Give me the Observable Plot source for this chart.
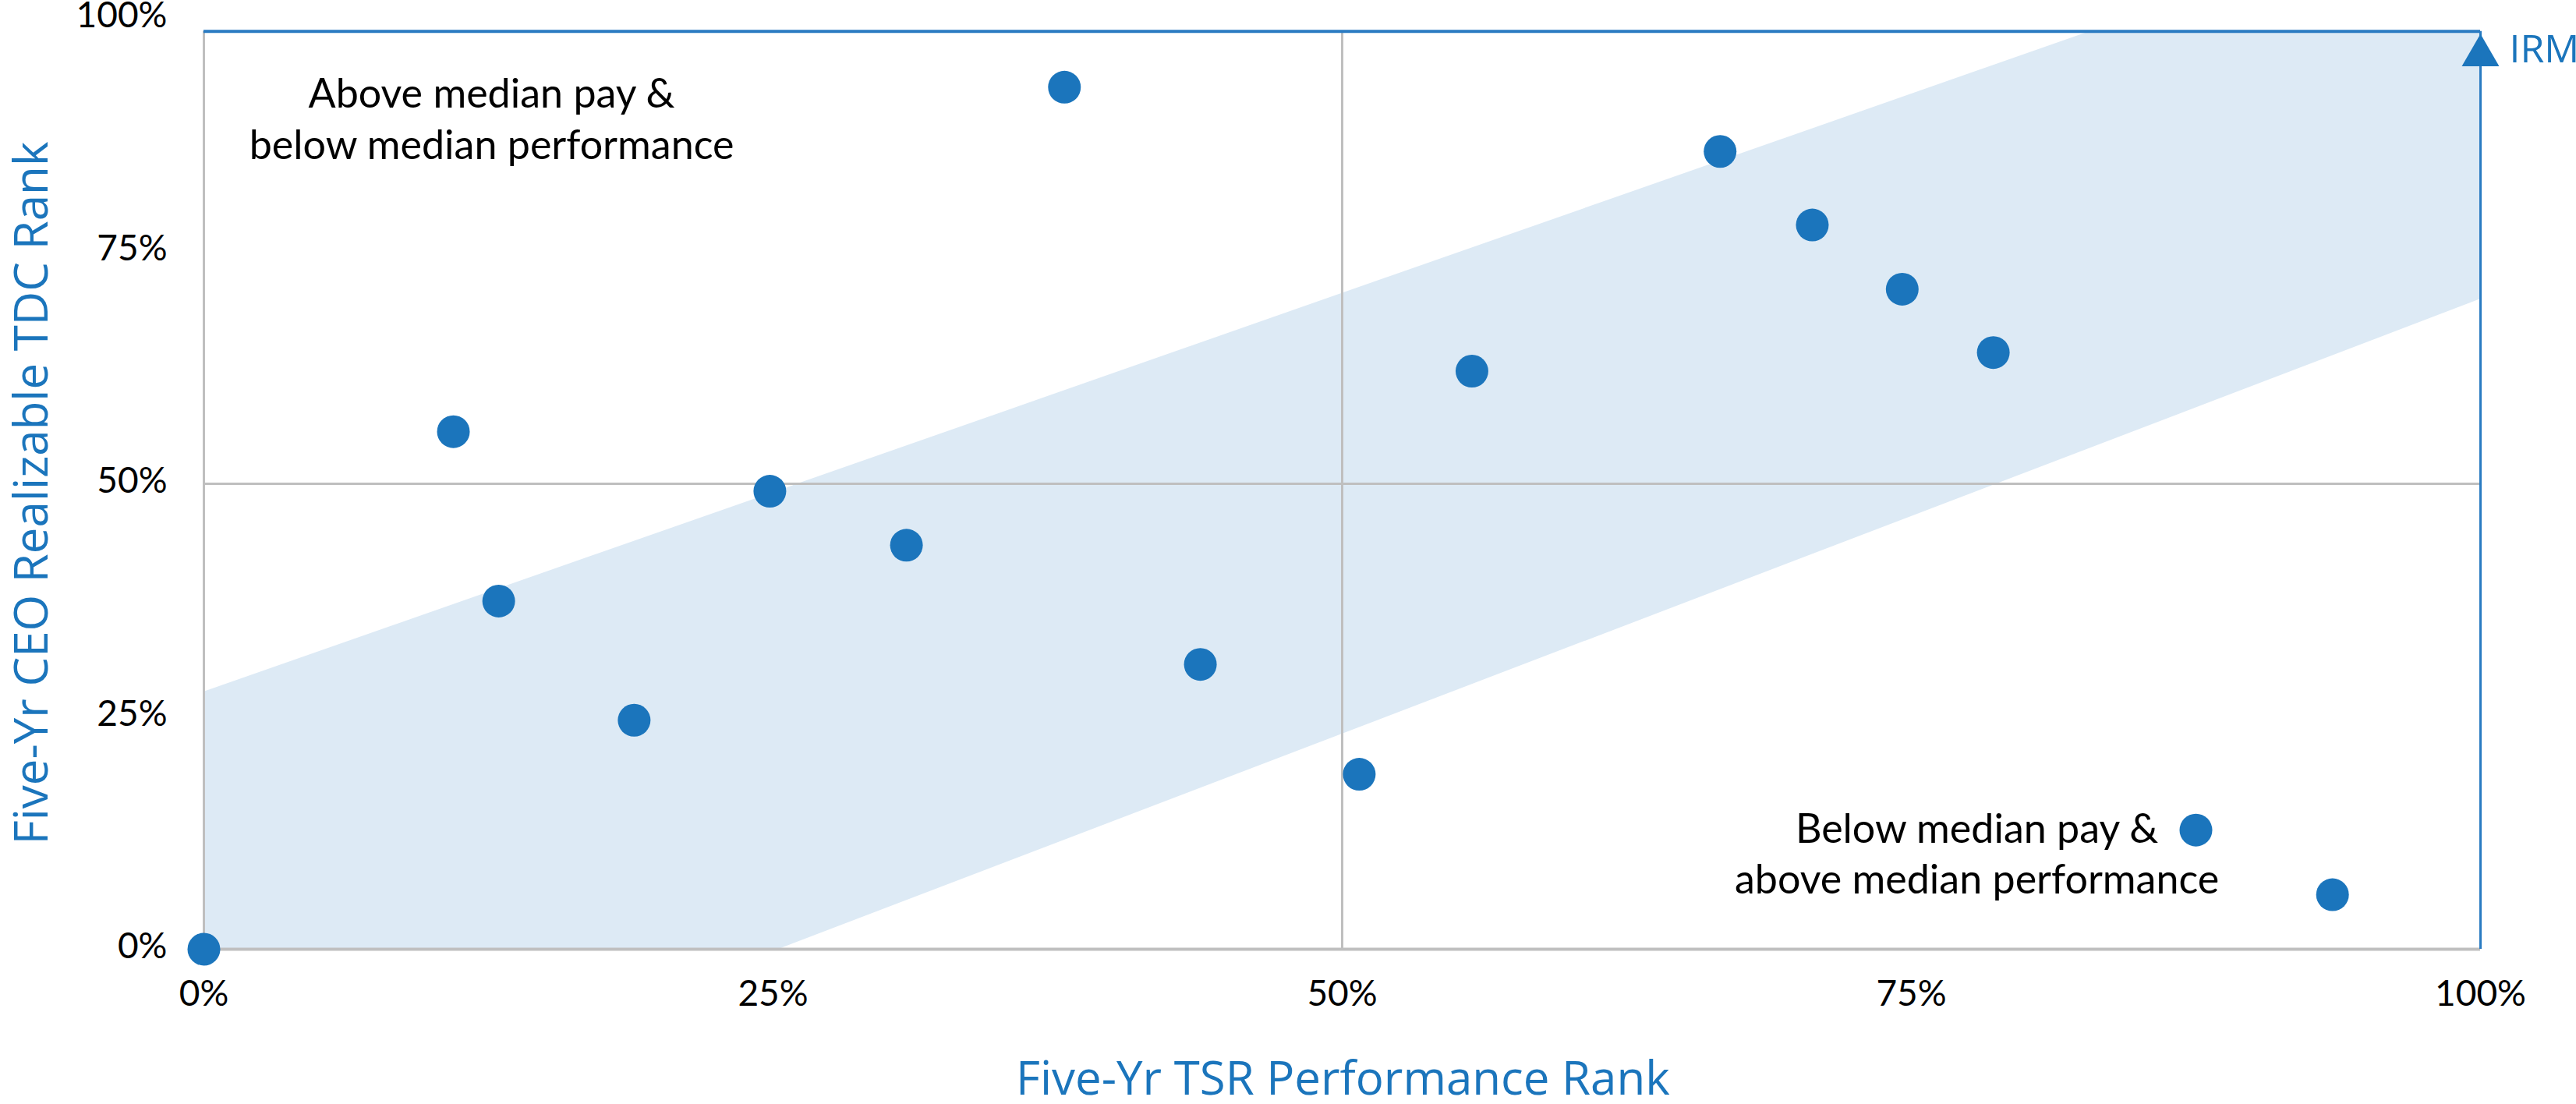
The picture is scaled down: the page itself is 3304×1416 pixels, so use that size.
<!DOCTYPE html>
<html>
<head>
<meta charset="utf-8">
<script src="https://cdn.jsdelivr.net/npm/d3@7"></script>
<script src="https://cdn.jsdelivr.net/npm/@observablehq/plot@0.6"></script>
<style>
  html, body { margin: 0; padding: 0; background: #fff; }
  #chart svg { display: block; }
</style>
</head>
<body>
<div id="chart"></div>
<script>
// ---- data ----
const tsrRank = [0, 0.1096, 0.1295, 0.189, 0.2486, 0.3086, 0.378, 0.4377, 0.5075, 0.557, 0.666, 0.7065, 0.746, 0.786, 0.875, 0.935];
const tdcRank = [0, 0.556, 0.374, 0.246, 0.492, 0.434, 0.926, 0.306, 0.188, 0.621, 0.857, 0.778, 0.709, 0.641, 0.128, 0.0586];

// alignment band (vertices of the shaded region)
const bandTsr = [0, 0.252, 1, 1, 0.828, 0];
const bandTdc = [0, 0, 0.699, 0.986, 0.986, 0.277];

// highlighted company
const irmName = "IRM";
const irmTsr = 1.0;
const irmTdc = 0.986;

const xTicks = [0, 0.25, 0.5, 0.75, 1];
const yTicks = [0, 0.25, 0.5, 0.75, 1];
const tickLabels = ["0%", "25%", "50%", "75%", "100%"];

const xTitle = "Five-Yr TSR Performance Rank";
const yTitle = "Five-Yr CEO Realizable TDC Rank";
const noteTopLeft = "Above median pay &\nbelow median performance";
const noteBottomRight = "Below median pay &\nabove median performance";

// ---- build tables ----
const points = tsrRank.map((x, i) => ({x, y: tdcRank[i]}));
const band = bandTsr.map((x, i) => ({x, y: bandTdc[i]}));
const irm = [{name: irmName, x: irmTsr, y: irmTdc}];

const blue = "#1b75bc";
const lineBlue = "#2a7bc2";
const gray = "#bfbfbf";
const bandFill = "#ddeaf5";

const chart = Plot.plot({
  width: 3304,
  height: 1416,
  marginLeft: 261,
  marginRight: 123,
  marginTop: 23,
  marginBottom: 199,
  x: {domain: [0, 1], axis: null},
  y: {domain: [0, 1], axis: null},
  style: {fontFamily: "Lato", background: "#fff", overflow: "visible", color: "#000"},
  marks: [
    Plot.line(band, {x: "x", y: "y", fill: bandFill, stroke: "none"}),
    Plot.ruleX([0.5], {y1: 0, y2: irmTdc, stroke: gray, strokeWidth: 3}),
    Plot.ruleY([0.5], {x1: 0, x2: irmTsr, stroke: gray, strokeWidth: 3}),
    Plot.ruleX([0], {y1: 0, y2: irmTdc, stroke: gray, strokeWidth: 3}),
    Plot.ruleY([0], {x1: 0, x2: irmTsr, stroke: gray, strokeWidth: 4}),
    Plot.ruleY(irm, {y: "y", x1: 0, x2: "x", stroke: lineBlue, strokeWidth: 4}),
    Plot.ruleX(irm, {x: "x", y1: 0, y2: "y", stroke: lineBlue, strokeWidth: 3}),
    Plot.dot(irm, {x: "x", y: "y", symbol: "triangle", r: 17.8, fill: blue, dy: 31}),
    Plot.text(irm, {x: "x", y: "y", text: "name", dx: 37, dy: 24, textAnchor: "start", lineAnchor: "middle",
      fill: blue, fontFamily: "Open Sans", fontSize: 50}),
    Plot.dot(points, {x: "x", y: "y", r: 21, fill: blue}),
    Plot.axisX({ticks: xTicks, tickFormat: (d, i) => tickLabels[i], tickSize: 0, tickPadding: 40,
      fontSize: 46, label: null}),
    Plot.axisY({ticks: yTicks, tickFormat: (d, i) => tickLabels[i], tickSize: 0, tickPadding: 47,
      dy: -3, fontSize: 46, label: null}),
    Plot.text([noteTopLeft], {x: 0.1264, y: 0.8492, lineAnchor: "bottom", lineHeight: 1.27,
      fontSize: 52, fill: "#000"}),
    Plot.text([noteBottomRight], {x: 0.7788, y: 0.0603, lineAnchor: "bottom", lineHeight: 1.25,
      fontSize: 52, fill: "#000"}),
    Plot.text([xTitle], {x: 0.5003, y: 0, dy: 186, lineAnchor: "bottom", fontSize: 60,
      fill: blue, fontFamily: "Open Sans"}),
    Plot.text([yTitle], {x: 0, y: 0.49, dx: -220, rotate: -90, lineAnchor: "middle", fontSize: 60,
      fill: blue, fontFamily: "Open Sans"})
  ]
});

document.getElementById("chart").append(chart);
</script>
</body>
</html>
